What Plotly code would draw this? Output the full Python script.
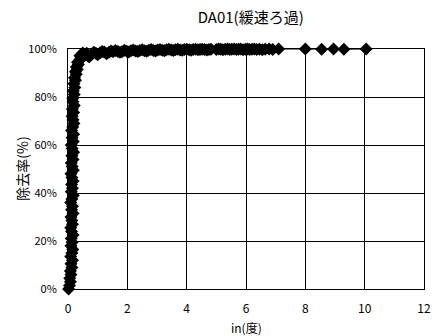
import plotly.graph_objects as go

# Steep rise near zero turbidity
x_rise = [0.02, 0.05, 0.08, 0.06, 0.10, 0.08, 0.13, 0.10, 0.15, 0.09, 0.13, 0.16, 0.10, 0.14,
          0.11, 0.17, 0.12, 0.09, 0.15, 0.13, 0.10, 0.17, 0.12, 0.15, 0.09, 0.13, 0.18, 0.11,
          0.15, 0.12, 0.17, 0.13, 0.10, 0.18, 0.14, 0.11, 0.17, 0.13, 0.19, 0.14, 0.11, 0.18,
          0.14, 0.19, 0.12, 0.16, 0.20, 0.17, 0.14, 0.19, 0.15, 0.21, 0.17, 0.16, 0.21, 0.18,
          0.23, 0.20, 0.25, 0.22, 0.28, 0.25, 0.31, 0.28, 0.35, 0.32, 0.39, 0.43, 0.40, 0.48,
          0.53, 0.50, 0.58, 0.63, 0.68]
y_rise = [0, 1.5, 3, 4.5, 6, 7.5, 9, 10.5, 12, 13.5, 15, 16.5, 18, 19.5,
          21, 22.5, 24, 25.5, 27, 28.5, 30, 31.5, 33, 34.5, 36, 37.5, 39, 40.5,
          42, 43.5, 45, 46.5, 48, 49.5, 51, 52.5, 54, 55.5, 57, 58.5, 60, 61.5,
          63, 64.5, 66, 67.5, 69, 70.5, 72, 73.5, 75, 76.5, 78, 79.5, 81, 82.5,
          84, 85.5, 87, 88, 89.5, 90.5, 91.5, 92.5, 93.5, 94.5, 95.3, 96.0, 97.2, 96.5,
          97.5, 98.3, 97.6, 98.2, 97.0]

# Dense plateau
x_plat = [0.72, 0.80, 0.87, 0.94, 1.00, 1.08, 1.15, 1.22, 1.30, 1.38, 1.45, 1.52, 1.60, 1.68,
          1.75, 1.82, 1.90, 1.98, 2.05, 2.12, 2.20, 2.28, 2.35, 2.42, 2.50, 2.58, 2.65, 2.72,
          2.80, 2.88, 2.95, 3.02, 3.10, 3.18, 3.25, 3.32, 3.40, 3.48, 3.55, 3.62, 3.70, 3.78,
          3.85, 3.92, 4.00, 4.08, 4.15, 4.22, 4.30, 4.38, 4.45, 4.52, 4.60, 4.68, 4.75, 4.82]
y_plat = [96.8, 97.8, 98.6, 98.2, 97.6, 98.4, 99.0, 98.8, 98.0, 98.6, 99.2, 98.9, 99.4, 99.0,
          98.6, 98.9, 99.5, 99.1, 98.8, 99.3, 99.6, 99.2, 99.0, 99.4, 99.7, 99.3, 99.1, 99.5,
          99.8, 99.4, 99.2, 99.6, 99.8, 99.5, 99.3, 99.7, 99.9, 99.6, 99.4, 99.7, 99.9, 99.6,
          99.5, 99.8, 99.9, 99.7, 99.5, 99.8, 99.9, 99.7, 99.8, 99.9, 99.8, 99.6, 99.8, 99.9]

# Second cluster and isolated points
x_tail = [5.00, 5.08, 5.15, 5.22, 5.30, 5.38, 5.45, 5.52, 5.60, 5.68, 5.75, 5.82, 5.90, 5.98,
          6.05, 6.12, 6.20, 6.28, 6.36, 6.45, 6.55, 6.65, 6.78, 6.90, 7.10, 8.00, 8.55, 8.95,
          9.30, 10.05]
y_tail = [99.8, 100, 99.9, 99.7, 99.9, 100, 99.8, 99.9, 100, 99.8, 99.9, 100, 99.7, 99.9,
          100, 99.8, 99.9, 100, 99.8, 99.9, 99.7, 99.9, 100, 99.8, 100, 100, 99.9, 100,
          99.9, 100]

x_vals = x_rise + x_plat + x_tail
y_vals = y_rise + y_plat + y_tail

x_ticks = [0, 2, 4, 6, 8, 10, 12]
y_ticks = [0, 20, 40, 60, 80, 100]

FONT = "Noto Sans CJK JP"

fig = go.Figure()
fig.add_trace(go.Scatter(
    x=x_vals, y=y_vals, mode="lines+markers",
    line=dict(color="black", width=1),
    marker=dict(symbol="diamond", size=10, color="black"),
    cliponaxis=False, showlegend=False,
))

fig.update_layout(
    width=436, height=336,
    margin=dict(l=68, r=5, t=49, b=47),
    paper_bgcolor="white", plot_bgcolor="white",
    font=dict(family=FONT, size=11, color="black"),
    title=dict(text="DA01(緩速ろ過)", x=0.575, xanchor="center", y=0.947, yanchor="middle",
               font=dict(family=FONT, size=15, color="black")),
    annotations=[
        dict(text="除去率(%)", textangle=-90, xref="paper", yref="paper",
             x=-0.13, y=0.5, xanchor="center", yanchor="middle", showarrow=False,
             font=dict(family=FONT, size=14, color="black")),
        dict(text="in(度)", xref="paper", yref="paper",
             x=0.5, y=-0.16, xanchor="center", yanchor="middle", showarrow=False,
             font=dict(family=FONT, size=12, color="black")),
    ],
)
fig.update_xaxes(
    range=[0, 12], tickvals=x_ticks, ticktext=[str(v) for v in x_ticks],
    showgrid=True, gridcolor="black", gridwidth=1,
    showline=True, linecolor="black", linewidth=1, mirror=True,
    zeroline=False, ticks="", ticklabelstandoff=9, ticklabeloverflow="allow",
    tickfont=dict(family=FONT, size=12, color="black"),
)
fig.update_yaxes(
    range=[0, 100], tickvals=y_ticks, ticktext=[f"{v}%" for v in y_ticks],
    showgrid=True, gridcolor="black", gridwidth=1,
    showline=True, linecolor="black", linewidth=1, mirror=True,
    zeroline=False, ticks="", ticklabelstandoff=8,
    tickfont=dict(family=FONT, size=11, color="black"),
)

fig.write_html("out.html")
